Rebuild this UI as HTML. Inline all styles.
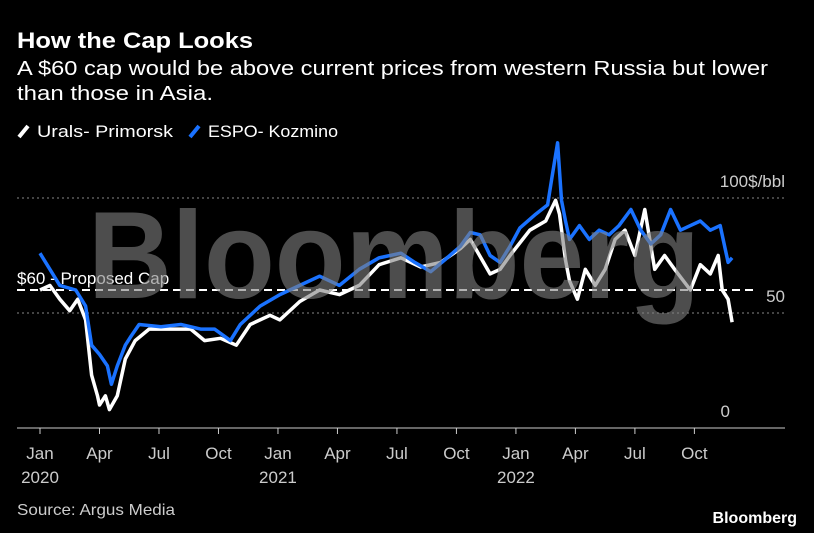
<!DOCTYPE html>
<html><head><meta charset="utf-8"><style>
html,body{margin:0;padding:0;background:#000;}
svg{display:block;font-family:"Liberation Sans",sans-serif;}
</style></head><body>
<svg id="chart" width="814" height="533" viewBox="0 0 814 533" xmlns="http://www.w3.org/2000/svg">
<rect width="814" height="533" fill="#000"/>
<text x="17" y="48" fill="#fff" font-size="22" font-weight="bold" textLength="236" lengthAdjust="spacingAndGlyphs">How the Cap Looks</text>
<text x="17" y="75" fill="#fff" font-size="20" textLength="751" lengthAdjust="spacingAndGlyphs">A $60 cap would be above current prices from western Russia but lower</text>
<text x="17" y="100" fill="#fff" font-size="20" textLength="196" lengthAdjust="spacingAndGlyphs">than those in Asia.</text>
<g>
<line x1="19" y1="137" x2="28" y2="126" stroke="#fff" stroke-width="4"/>
<text x="37" y="137" fill="#fff" font-size="17" textLength="136" lengthAdjust="spacingAndGlyphs">Urals- Primorsk</text>
<line x1="190" y1="137" x2="199" y2="126" stroke="#1a72ff" stroke-width="4"/>
<text x="208" y="137" fill="#fff" font-size="17" textLength="130" lengthAdjust="spacingAndGlyphs">ESPO- Kozmino</text>
</g>
<g id="grid"></g>
<g id="series"></g>
<text x="88" y="298" fill="rgb(128,128,128)" fill-opacity="0.6" font-size="124" font-weight="bold" textLength="612" lengthAdjust="spacingAndGlyphs">Bloomberg</text>
<g id="axis"></g>
<text x="17" y="515" fill="#ccc" font-size="16" textLength="158" lengthAdjust="spacingAndGlyphs">Source: Argus Media</text>
<text x="797" y="523" fill="#fff" font-size="16" font-weight="bold" text-anchor="end">Bloomberg</text>
</svg>
<script>
const uralsMonths=[0,0.5,1.0,1.5,1.9,2.3,2.6,2.9,3.0,3.3,3.5,3.9,4.3,4.8,5.5,6.6,7.6,8.3,9.1,9.9,10.6,11.6,12.1,13.1,14.1,15.1,16.1,17.1,18.2,19.2,20.2,21.2,21.7,22.7,23.2,23.7,24.7,25.5,26.0,26.2,26.5,26.7,27.1,27.5,28.0,28.5,29.0,29.5,30.0,30.5,31.0,31.5,32.0,32.8,33.3,33.8,34.2,34.4,34.7,34.9];
const uralsValues=[60,62,56,51,56,47,23,14,10,14,8,14,30,38,43,43,43,38,39,36,45,49,47,55,60,58,62,71,74,70,72,78,82,67,69,75,86,90,99,93,73,64,56,69,62,69,82,86,75,95,69,75,69,60,71,67,75,60,56,46];
const espoMonths=[0,1.0,1.8,2.3,2.6,3.0,3.4,3.6,3.9,4.3,4.6,5.0,6.1,7.1,8.1,8.8,9.6,10.1,11.1,12.1,13.1,14.1,15.1,16.1,17.1,18.2,18.9,19.7,20.4,21.2,21.7,22.2,22.7,23.2,23.7,24.2,25.0,25.6,25.8,26.1,26.3,26.5,26.7,27.2,27.7,28.2,28.7,29.2,29.8,30.3,30.8,31.3,31.8,32.3,32.8,33.3,33.8,34.3,34.7,34.9];
const espoValues=[76,62,60,53,36,32,27,19,27,36,40,45,44,45,43,43,38,45,53,58,62,66,62,69,74,76,72,68,73,79,85,84,75,72,79,87,93,97,108,124,99,90,82,88,82,86,84,88,95,86,80,84,95,86,88,90,86,88,72,74];
const yTicks=[0,50,100];
const yTickLabels=["0","50","100$/bbl"];
const xMonthLabels=["Jan","Apr","Jul","Oct","Jan","Apr","Jul","Oct","Jan","Apr","Jul","Oct"];
const xYearLabels=["2020","","","","2021","","","","2022","","",""];
const capValue=60;

const NS="http://www.w3.org/2000/svg";
function xs(m){return 40+m*19.83;}
function ys(v){return 428-v*2.3;}
function mk(tag,attrs,parent){const e=document.createElementNS(NS,tag);for(const k in attrs)e.setAttribute(k,attrs[k]);parent.appendChild(e);return e;}
const grid=document.getElementById('grid'),series=document.getElementById('series'),axis=document.getElementById('axis');
yTicks.forEach((v,i)=>{
  if(v>0){
    const g=mk('line',{x1:17,x2:785,y1:ys(v),y2:ys(v),stroke:'#888','stroke-width':1,'stroke-dasharray':'2,3'},grid);
    
    
  }
  const t=mk('text',{x:785,y:ys(v)-11,fill:'#ccc','font-size':17,'text-anchor':'end'},grid);
  if(v===0){t.setAttribute('x',730);}
  t.textContent=yTickLabels[i];
  
  
});
const cap=mk('line',{x1:17,x2:757,y1:ys(capValue),y2:ys(capValue),stroke:'#fff','stroke-width':2,'stroke-dasharray':'8,5'},grid);


const capT=mk('text',{x:17,y:ys(capValue)-6,fill:'#fff','font-size':17},grid);
capT.textContent='$60 - Proposed Cap';


function path(ms,vs){return ms.map((m,i)=>(i?'L':'M')+xs(m).toFixed(1)+','+ys(vs[i]).toFixed(1)).join('');}
const pu=mk('path',{d:path(uralsMonths,uralsValues),fill:'none',stroke:'#fff','stroke-width':3.5,'stroke-linejoin':'round'},series);


const pe=mk('path',{d:path(espoMonths,espoValues),fill:'none',stroke:'#1a72ff','stroke-width':3.5,'stroke-linejoin':'round'},series);


const ax=mk('line',{x1:17,x2:785,y1:428,y2:428,stroke:'#ccc','stroke-width':1},axis);


xMonthLabels.forEach((l,i)=>{
  const x=xs(i*3);
  const tk=mk('line',{x1:x,x2:x,y1:428,y2:434,stroke:'#ccc','stroke-width':1},axis);
  
  
  const t=mk('text',{x:x,y:459,fill:'#ccc','font-size':17,'text-anchor':'middle'},axis);
  t.textContent=l;
  
  
  if(xYearLabels[i]){
    const y=mk('text',{x:x,y:483,fill:'#ccc','font-size':17,'text-anchor':'middle'},axis);
    y.textContent=xYearLabels[i];
    
    
  }
});
</script>
</body></html>
